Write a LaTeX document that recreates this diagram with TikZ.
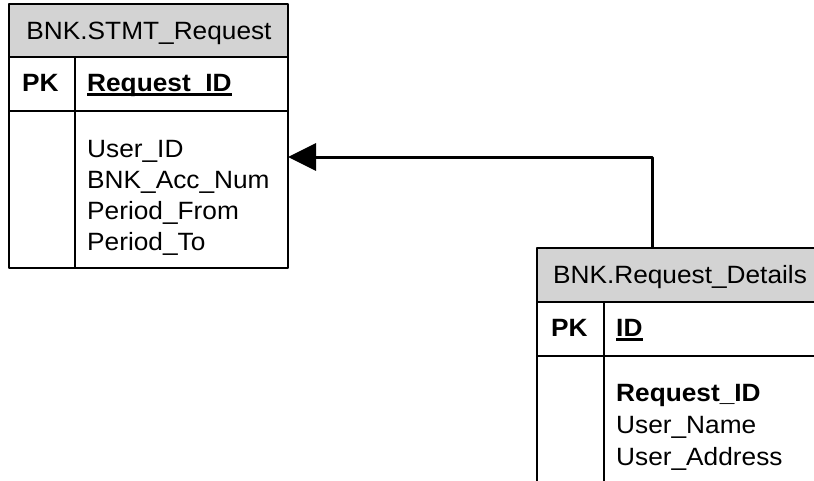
\documentclass[tikz,border=0pt]{standalone}
\usepackage{fontspec}
\usetikzlibrary{arrows.meta}
\newfontfamily\erdfont[FakeStretch=1.05]{Liberation Sans}
\definecolor{hdrgray}{RGB}{211,211,211}

\begin{document}
\begin{tikzpicture}[
    x = 1pt, y = -1pt,
    line join=round,
    tblbox/.style = {draw, line width=1.6pt, inner sep=0pt, outer sep=0pt, anchor=north west},
    hdrbox/.style = {tblbox, fill=hdrgray},
    field/.style = {font=\erdfont\fontsize{25}{25}\selectfont, inner sep=0pt, anchor=base west},
    title/.style = {field, anchor=base},
    keyline/.style = {line width=2.4pt},
    fk/.style = {line width=3pt, -{Triangle[length=28pt, width=27pt]}}
]

\useasboundingbox (0,0) rectangle (814,480);
\clip (0,0) rectangle (814,480);

% BNK.STMT_Request
\node[hdrbox, minimum width=279pt, minimum height=53pt] (stmthead) at (9,4) {};
\node[tblbox, minimum width=279pt, minimum height=54pt] (stmtpk) at (9,57) {};
\node[tblbox, minimum width=279pt, minimum height=157pt] (stmtbody) at (9,111) {};
\draw[line width=1.6pt] (75,57) -- (75,268);

\node[title] (stmtname) at (149,39) {BNK.STMT\_Request};
\node[field] (stmtpkl) at (22,91) {\bfseries PK};
\node[field] (stmtkey) at (87,91) {\bfseries Request\_ID};
\draw[keyline] ([yshift=-3.5pt]stmtkey.base west) -- ([yshift=-3.5pt]stmtkey.base east);
\node[field] (stmtf1) at (87,157) {User\_ID};
\node[field] (stmtf2) at (87,188) {BNK\_Acc\_Num};
\node[field] (stmtf3) at (87,219) {Period\_From};
\node[field] (stmtf4) at (87,250) {Period\_To};

% BNK.Request_Details
\node[hdrbox, minimum width=286pt, minimum height=54pt] (dethead) at (537,248) {};
\node[tblbox, minimum width=286pt, minimum height=54pt] (detpk) at (537,302) {};
\node[tblbox, minimum width=286pt, minimum height=170pt] (detbody) at (537,356) {};
\draw[line width=1.6pt] (604,302) -- (604,530);

\node[title] (detname) at (680,283) {BNK.Request\_Details};
\node[field] (detpkl) at (551,336) {\bfseries PK};
\node[field] (detkey) at (616,336) {\bfseries ID};
\draw[keyline] ([yshift=-3.5pt]detkey.base west) -- ([yshift=-3.5pt]detkey.base east);
\node[field] (detf1) at (616,401) {\bfseries Request\_ID};
\node[field] (detf2) at (616,433) {User\_Name};
\node[field] (detf3) at (616,465) {User\_Address};

% foreign key
\coordinate (bend) at (652,157);
\draw[fk] (dethead.north -| bend) -- (bend) -- (stmtbody.east |- bend);

\end{tikzpicture}
\end{document}
